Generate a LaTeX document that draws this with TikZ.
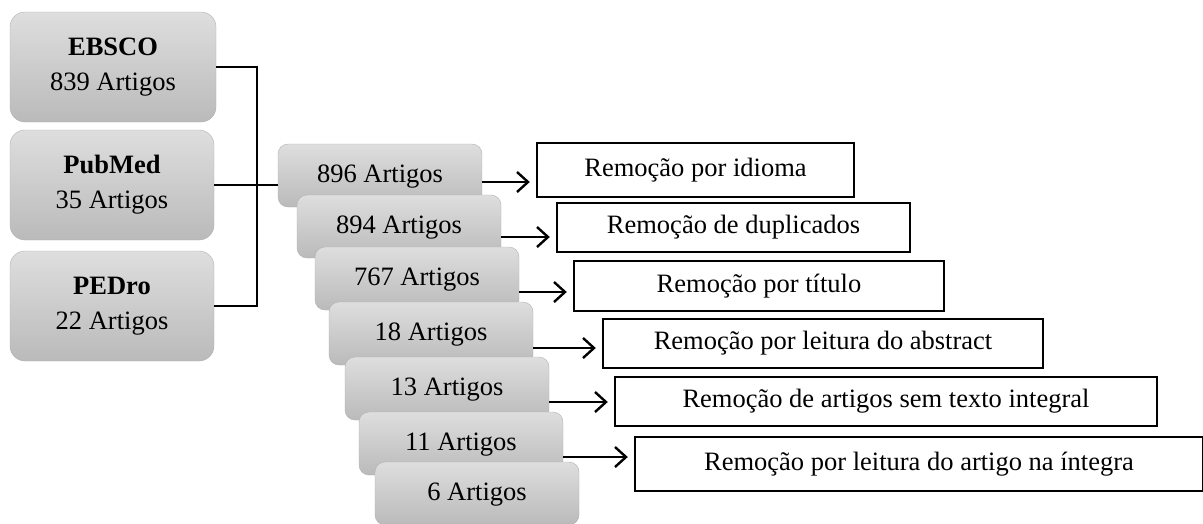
\documentclass[tikz,border=0pt]{standalone}
\usepackage{fontspec}
\setmainfont{Liberation Serif}
\usetikzlibrary{%
    arrows.meta,
    positioning
}

\tikzset{
    base/.style={font=\fontsize{26.5}{35}\selectfont},
    source/.style={base, draw=black!30, rounded corners=15pt,
        top color=black!13, bottom color=black!27,
        minimum height=110pt, align=center},
    stage/.style={base, draw=black!30, rounded corners=10pt,
        top color=black!13, bottom color=black!27,
        minimum width=204pt, inner sep=0pt,
        text height=38.5pt, text depth=24.5pt},
    removal/.style={base, draw, line width=2.4pt, inner sep=0pt},
    link/.style={line width=2.2pt},
    arr/.style={line width=2.4pt, -{Straight Barb[length=11pt,width=20pt]},
        shorten >=6pt}
}

\begin{document}
\begin{tikzpicture}[x=1pt, y=-1pt]
    \useasboundingbox (0,0) rectangle (1203,523);

    \node[source, minimum width=206pt] (ebsco)  at (113,67)  {\textbf{EBSCO}\\839 Artigos};
    \node[source, minimum width=204pt] (pubmed) at (112,185) {\textbf{PubMed}\\35 Artigos};
    \node[source, minimum width=204pt] (pedro)  at (112,306) {\textbf{PEDro}\\22 Artigos};

    \node[stage] (a896) at (380,175.5) {896 Artigos};
    \node[stage] (a894) at (399,226.5) {894 Artigos};
    \node[stage] (a767) at (417,278.5) {767 Artigos};
    \node[stage] (a18)  at (431,333.5) {18 Artigos};
    \node[stage] (a13)  at (447,388.5) {13 Artigos};
    \node[stage] (a11)  at (461,443.5) {11 Artigos};
    \node[stage] (a6)   at (477,493.5) {6 Artigos};

    \node[removal, minimum width=317pt, minimum height=54pt] (idioma)     at (695.5,170)   {Remoção por idioma};
    \node[removal, minimum width=353pt, minimum height=49pt] (duplicados) at (733.5,227.5) {Remoção de duplicados};
    \node[removal, minimum width=370pt, minimum height=50pt] (titulo)     at (759,286)     {Remoção por título};
    \node[removal, minimum width=440pt, minimum height=49pt] (abstract)   at (823,343.5)   {Remoção por leitura do abstract};
    \node[removal, minimum width=542pt, minimum height=49pt] (integral)   at (886,401.5)   {Remoção de artigos sem texto integral};
    \node[removal, minimum width=568pt, minimum height=54pt] (integra)    at (919,464)     {Remoção por leitura do artigo na íntegra};

    % bracket joining the databases
    \coordinate (bend) at (257,0);
    \draw[link] (ebsco.east) -- (ebsco.east -| bend) -- (pedro.east -| bend) -- (pedro.east);
    \draw[link] (pubmed.east) -- (pubmed.east -| a896.west);

    \foreach \Source/\Target/\Dy in {a896/idioma/6.5, a894/duplicados/10.5,
            a767/titulo/13.5, a18/abstract/14.5, a13/integral/13.5, a11/integra/13.5} {
        \path (\Source.east) ++(0,\Dy) coordinate (tail);
        \draw[arr] (tail) -- (tail -| \Target.west);
    }
\end{tikzpicture}
\end{document}
